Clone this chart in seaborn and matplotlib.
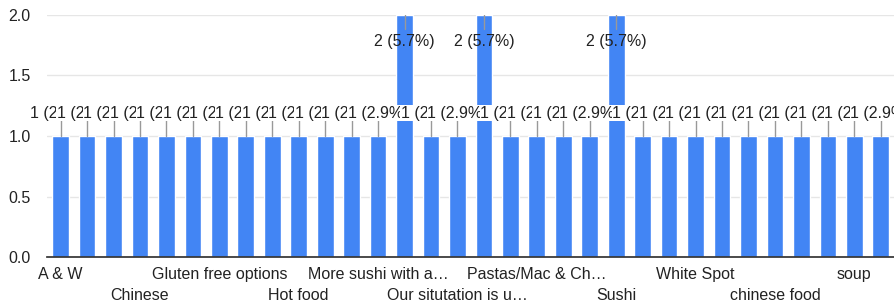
import matplotlib.pyplot as plt
import seaborn as sns
import pandas as pd

# answers (alphabetical, as the form sorts them); only every 3rd name is visible
answers = ["A & W", "Burgers", "Chicken", "Chinese", "Curry", "Fish and chips",
           "Gluten free options", "Healthy options", "Hot dogs", "Hot food",
           "Indian food", "Mexican", "More sushi with a…", "Noodles", "Not sure",
           "Our situtation is u…", "Pasta", "Pasta salad", "Pastas/Mac & Ch…",
           "Pizza", "Salad", "Sushi", "Tacos", "Thai food", "White Spot", "Wraps",
           "burgers", "chinese food", "noodles", "pizza", "soup", "sushi"]
counts = [1, 1, 1, 1, 1, 1, 1, 1, 1, 1, 1, 1, 1, 2, 1, 1, 2, 1, 1, 1, 1, 2,
          1, 1, 1, 1, 1, 1, 1, 1, 1, 1]
total = 35

df = pd.DataFrame({'answer': answers, 'count': counts})

sns.set_theme(style='white')
plt.rcParams['font.family'] = ['Liberation Sans', 'DejaVu Sans']

fig = plt.figure(figsize=(8.94, 3.05), dpi=100)
ax = fig.add_axes([0.053, 0.157, 0.947, 0.794])

sns.barplot(data=df, x='answer', y='count', color='#4285f4', saturation=1,
            width=0.63, ax=ax, zorder=2)

fs = 11.5
ax.set_ylim(0, 2)
ax.set_xlim(-0.5, len(answers) - 0.5)
ax.set_yticks([0, 0.5, 1.0, 1.5, 2.0])
ax.set_yticklabels(['0.0', '0.5', '1.0', '1.5', '2.0'], fontsize=fs, color='#222222')
ax.tick_params(axis='y', length=0, pad=12)
ax.grid(axis='y', color='#e6e6e6', linewidth=1, zorder=0)
for s in ['left', 'right', 'top']:
    ax.spines[s].set_visible(False)
ax.spines['bottom'].set_color('#333333')
ax.spines['bottom'].set_zorder(3)

# staggered labels, every third answer
pos = list(range(0, len(answers), 3))
labs = []
for k, p in enumerate(pos):
    labs.append(answers[p] if k % 2 == 0 else '\n' + answers[p])
ax.set_xticks(pos)
ax.set_xticklabels(labs, fontsize=fs, color='#222222', linespacing=1.5)
ax.tick_params(axis='x', length=0, pad=7)
ax.set_xlabel('')
ax.set_ylabel('')

# value labels with leader lines
ymax = 2
for i, c in enumerate(counts):
    txt = f'{c} ({c / total * 100:.1f}%)'
    if c + 0.2 < ymax:
        ax.plot([i, i], [c, c + 0.13], color='#999999', lw=1, zorder=3)
        ax.text(i, c + 0.19, txt, ha='center', va='center', fontsize=fs,
                color='#222222', zorder=4,
                bbox=dict(facecolor='white', edgecolor='none', pad=0.3))
    else:
        ax.plot([i, i], [ymax, ymax - 0.12], color='#999999', lw=1, zorder=3)
        ax.text(i, ymax - 0.22, txt, ha='center', va='center', fontsize=fs,
                color='#222222', zorder=4)

fig.savefig('out.png', dpi=100)
